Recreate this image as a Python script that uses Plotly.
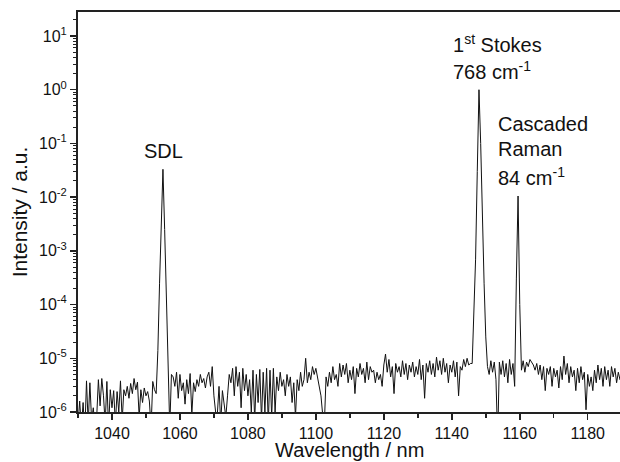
import numpy as np
import plotly.graph_objects as go

# Wavelength grid (nm): spectrometer samples every 0.5 nm from 1030 to 1190
WL_START = 1030.0
WL_STEP = 0.5

# Intensity in units of 1e-6 a.u., one value per sample
intensity_micro = [
    0.6, 1.6, 0.5, 1.5, 0.4, 3.8, 0.6, 3.5, 0.7, 1.2,          # 1030.0
    0.5, 0.8, 4.0, 1.3, 4.2, 2.0, 0.6, 3.7, 0.5, 2.6,          # 1035.0
    1.2, 2.5, 0.6, 2.4, 1.0, 3.8, 0.7, 2.6, 2.0, 3.0,          # 1040.0
    1.8, 3.4, 2.2, 4.2, 2.6, 3.6, 0.8, 2.6, 1.5, 2.8,          # 1045.0
    2.0, 2.4, 1.6, 0.5, 3.7, 2.6, 2.2, 14, 250, 2500,          # 1050.0
    33000, 2500, 200, 15, 0.5, 5.0, 4.5, 3.0, 5.5, 1.8,        # 1055.0
    5.0, 2.5, 3.5, 1.4, 4.0, 2.2, 5.2, 0.9, 3.5, 2.4,          # 1060.0
    4.0, 3.0, 5.0, 3.5, 4.2, 2.8, 4.5, 5.5, 3.0, 7.0,          # 1065.0
    2.0, 1.0, 0.9, 3.0, 0.6, 2.5, 1.2, 0.8, 2.0, 5.0,          # 1070.0
    3.5, 6.5, 2.0, 7.0, 3.0, 5.5, 1.2, 6.5, 2.5, 5.0,          # 1075.0
    2.0, 4.0, 1.0, 6.0, 0.7, 5.0, 1.5, 6.2, 0.7, 5.5,          # 1080.0
    1.0, 6.5, 0.6, 6.0, 0.8, 6.5, 1.0, 4.5, 2.5, 5.5,          # 1085.0
    3.0, 4.0, 2.0, 5.0, 3.0, 4.5, 1.5, 3.5, 0.8, 4.0,          # 1090.0
    2.5, 5.5, 3.0, 4.0, 10.0, 3.5, 5.5, 4.0, 7.0, 5.0,         # 1095.0
    6.5, 4.5, 3.0, 2.0, 0.9, 0.6, 4.5, 3.0, 5.5, 3.5,          # 1100.0
    7.0, 4.0, 5.0, 3.0, 8.0, 4.5, 7.5, 5.0, 8.0, 3.5,          # 1105.0
    6.0, 4.0, 7.0, 2.2, 6.5, 4.5, 8.0, 5.0, 6.5, 3.5,          # 1110.0
    8.5, 4.0, 7.0, 5.5, 6.0, 3.5, 5.5, 4.0, 5.0, 3.0,          # 1115.0
    7.5, 12.0, 5.5, 9.5, 4.5, 7.0, 2.2, 8.0, 5.5, 7.0,         # 1120.0
    4.5, 9.0, 5.0, 8.0, 4.0, 7.5, 5.5, 8.5, 4.5, 7.0,          # 1125.0
    5.0, 9.5, 4.0, 7.5, 1.8, 8.0, 5.5, 9.0, 5.0, 8.0,          # 1130.0
    4.5, 10.5, 6.0, 9.0, 5.0, 10.0, 5.5, 8.0, 3.5, 7.5,        # 1135.0
    5.5, 9.0, 4.5, 8.5, 2.0, 7.0, 6.0, 9.5, 7.0, 10.0,         # 1140.0
    7.5, 8.0, 8.0, 60, 700, 30000, 1000000, 100000, 2500, 250, # 1145.0
    25, 7.0, 5.0, 9.0, 5.5, 8.5, 4.0, 0.3, 8.5, 5.0,           # 1150.0
    9.0, 4.5, 8.0, 3.5, 9.5, 5.0, 8.0, 3.0, 300, 10500,        # 1155.0
    100, 6.0, 9.0, 5.5, 8.5, 7.0, 9.5, 8.5, 7.5, 6.0,          # 1160.0
    8.0, 5.0, 7.5, 4.0, 7.0, 2.5, 6.5, 5.0, 7.0, 3.0,          # 1165.0
    6.5, 4.5, 6.0, 2.8, 7.0, 4.0, 11.0, 5.0, 8.0, 3.5,         # 1170.0
    7.0, 4.5, 6.0, 2.5, 6.5, 3.5, 7.0, 4.0, 5.5, 1.1,          # 1175.0
    5.0, 3.0, 4.5, 2.5, 6.0, 3.5, 7.5, 4.0, 6.5, 3.0,          # 1180.0
    7.0, 4.0, 6.0, 3.0, 7.0, 4.5, 6.5, 3.5, 5.5, 4.0,          # 1185.0
    5.0,                                                       # 1190.0
]
UNIT = 1e-6

y_tick_exponents = [-6, -5, -4, -3, -2, -1, 0, 1]
y_tick_labels = ["10<sup>%d</sup>" % e for e in y_tick_exponents]
x_tick_values = [1040, 1060, 1080, 1100, 1120, 1140, 1160, 1180]

wavelength = WL_START + WL_STEP * np.arange(len(intensity_micro))
intensity = np.array(intensity_micro) * UNIT

FONT = "Arial, 'Liberation Sans', sans-serif"
AX = "#222222"

fig = go.Figure()
fig.add_trace(go.Scatter(x=wavelength, y=intensity, mode="lines",
                         line=dict(color="#111111", width=1), hoverinfo="skip"))

fig.update_layout(
    width=620, height=462,
    margin=dict(l=78, r=0, t=12, b=50, autoexpand=False),
    paper_bgcolor="white", plot_bgcolor="white",
    showlegend=False,
    font=dict(family=FONT, color="#111111"),
)

fig.update_xaxes(
    range=[1030, 1189.5], showgrid=False, zeroline=False, automargin=False,
    showline=True, linecolor=AX, linewidth=2, mirror=True,
    ticks="outside", ticklen=6, tickwidth=1.5, tickcolor=AX,
    tickmode="array", tickvals=x_tick_values,
    tickfont=dict(size=16, family=FONT),
    minor=dict(ticks="outside", dtick=10, tick0=1030, ticklen=3.5, tickwidth=1.5, tickcolor=AX),
)
fig.update_yaxes(
    type="log", range=[-6, 1.447], showgrid=False, zeroline=False, automargin=False,
    showline=True, linecolor=AX, linewidth=2,
    ticks="outside", ticklen=6, tickwidth=1.5, tickcolor=AX,
    tickmode="array", tickvals=[10.0 ** e for e in y_tick_exponents], ticktext=y_tick_labels,
    tickfont=dict(size=16, family=FONT),
    minor=dict(ticks="outside", dtick="D1", ticklen=3, tickwidth=1, tickcolor=AX),
    title=dict(text="Intensity / a.u.", font=dict(size=21, family=FONT), standoff=6),
)

# x-axis title placed just below the tick labels
fig.add_annotation(xref="paper", yref="paper", x=0.5, y=-0.095, xanchor="center", yanchor="middle",
                   text="Wavelength / nm", showarrow=False,
                   font=dict(size=20, family=FONT, color="#111111"))

ann_font = dict(size=20, family=FONT, color="#111111")
annotations = [
    dict(x=1055.2, y=-1.15, text="SDL", xanchor="center"),
    dict(x=1139.8, y=0.86, text="1<sup>st</sup> Stokes", xanchor="left"),
    dict(x=1139.8, y=0.35, text="768 cm<sup>-1</sup>", xanchor="left"),
    dict(x=1153.0, y=-0.64, text="Cascaded", xanchor="left"),
    dict(x=1153.0, y=-1.10, text="Raman", xanchor="left"),
    dict(x=1153.0, y=-1.61, text="84 cm<sup>-1</sup>", xanchor="left"),
]
for a in annotations:
    fig.add_annotation(xref="x", yref="y", showarrow=False, yanchor="middle",
                       font=ann_font, **a)

fig.write_html("out.html",
               config={"displayModeBar": False, "staticPlot": True},
               post_script="document.body.style.margin='0';document.body.style.overflow='hidden';")
